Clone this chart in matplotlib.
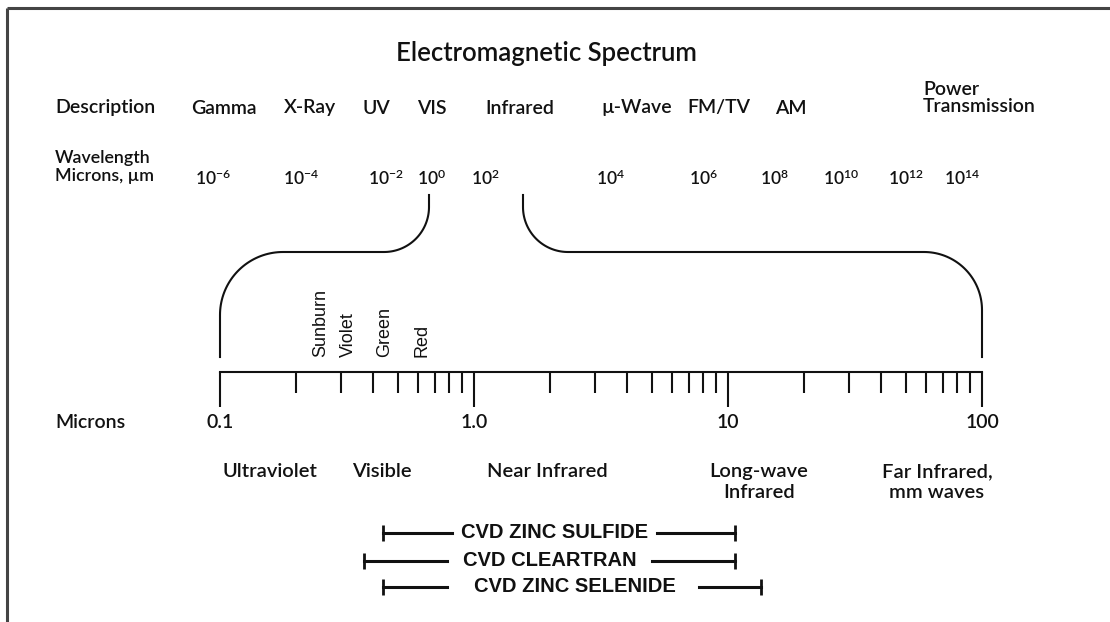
import numpy as np
import matplotlib.pyplot as plt
from matplotlib.ticker import FixedLocator, FixedFormatter, NullFormatter

plt.rcParams['font.family'] = ['Lato', 'DejaVu Sans']
plt.rcParams['font.weight'] = 'semibold'
plt.rcParams['mathtext.fontset'] = 'custom'
plt.rcParams['mathtext.rm'] = 'Lato:semibold'

# data
desc_labels = ['Gamma', 'X-Ray', 'UV', 'VIS', 'Infrared', '\u00b5-Wave', 'FM/TV', 'AM']
wl_exponents = [-6, -4, -2, 0, 2, 4, 6, 8, 10, 12, 14]
micron_major = [0.1, 1, 10, 100]
micron_labels = ['0.1', '1.0', '10', '100']
color_names = ['Sunburn', 'Violet', 'Green', 'Red']
color_um = [0.25, 0.32, 0.445, 0.625]
region_names = ['Ultraviolet', 'Visible', 'Near Infrared', 'Long-wave\nInfrared', 'Far Infrared,\nmm waves']
cvd_names = ['CVD ZINC SULFIDE', 'CVD CLEARTRAN', 'CVD ZINC SELENIDE']
cvd_start = [0.44, 0.37, 0.44]
cvd_end = [10.7, 10.7, 13.5]

# layout (pixels / microns)
desc_x = [224, 310, 376, 432, 520, 637, 719, 791]
wl_x = [213, 301, 386, 432, 485, 611, 703, 774, 841, 906, 962]
region_um = [0.157, 0.435, 1.95, 13.2, 66.5]
cvd_y = [533, 561, 587]
cvd_text_um = [2.07, 1.99, 2.5]
cvd_gap_lo = [0.819, 0.783, 0.783]
cvd_gap_hi = [5.25, 5.02, 7.69]

W, H = 1110, 622
fig = plt.figure(figsize=(W / 100, H / 100), dpi=100)
ov = fig.add_axes([0, 0, 1, 1])
ov.set_xlim(0, W)
ov.set_ylim(H, 0)
ov.axis('off')

ax = fig.add_axes([0, 0, 1, 1])
ax.patch.set_alpha(0)
ax.set_xscale('log')
ax.set_xlim(10 ** (-1 - 220 / 254), 10 ** (-1 + 890 / 254))
ax.set_ylim(H, 0)

ink = '#111111'
lw = 1.5

# frame
ov.plot([7, 7], [8, H], color='#444444', lw=2.2, solid_capstyle='butt')
ov.plot([7, W], [8, 8], color='#444444', lw=2.2, solid_capstyle='butt')

# top part
ov.text(546, 54, 'Electromagnetic Spectrum', ha='center', va='center', fontsize=18.5, color=ink)
ov.text(55, 108, 'Description', ha='left', va='center', fontsize=14, color=ink)
for lab, x in zip(desc_labels, desc_x):
    ov.text(x, 108, lab, ha='center', va='center', fontsize=14, color=ink)
ov.text(923, 98, 'Power\nTransmission', ha='left', va='center', fontsize=14,
        color=ink, linespacing=1.0)
ov.text(55, 167, 'Wavelength\nMicrons, \u00b5m', ha='left', va='center', fontsize=12.8,
        color=ink, linespacing=1.15)
for e, x in zip(wl_exponents, wl_x):
    ov.text(x, 178, r'$\mathregular{10^{%d}}$' % e, ha='center', va='center',
            fontsize=12.5, color=ink)

# brackets connecting spectrum to the micron scale
x01 = ov.transData.inverted().transform(ax.transData.transform((micron_major[0], 0)))[0]
x100 = ov.transData.inverted().transform(ax.transData.transform((micron_major[-1], 0)))[0]


def arc(cx, cy, r, a0, a1):
    t = np.radians(np.linspace(a0, a1, 40))
    return cx + r * np.cos(t), cy + r * np.sin(t)


yb = 357
ax1, ay1 = arc(384, 207, 45, 0, 90)
ax2, ay2 = arc(x01 + 63, 315, 63, 270, 180)
lx = np.concatenate([[429], ax1, ax2, [x01]])
ly = np.concatenate([[195], ay1, ay2, [yb]])
ov.plot(lx, ly, color=ink, lw=lw)

bx1, by1 = arc(568, 207, 45, 180, 90)
bx2, by2 = arc(x100 - 58, 310, 58, 270, 360)
rx = np.concatenate([[523], bx1, bx2, [x100]])
ry = np.concatenate([[195], by1, by2, [yb]])
ov.plot(rx, ry, color=ink, lw=lw)

# micron scale
for s in ['left', 'right', 'top']:
    ax.spines[s].set_visible(False)
ax.spines['bottom'].set_position(('data', 372))
ax.spines['bottom'].set_bounds(micron_major[0], micron_major[-1])
ax.spines['bottom'].set_linewidth(lw)
ax.spines['bottom'].set_color(ink)
ax.xaxis.set_major_locator(FixedLocator(micron_major))
ax.xaxis.set_major_formatter(FixedFormatter(micron_labels))
minor = [m * d for d in [0.1, 1, 10] for m in range(2, 10)]
ax.xaxis.set_minor_locator(FixedLocator(minor))
ax.xaxis.set_minor_formatter(NullFormatter())
ax.tick_params(axis='x', which='major', direction='out', length=25, width=lw,
               color=ink, pad=5, labelsize=14, labelcolor=ink)
ax.tick_params(axis='x', which='minor', direction='out', length=15, width=lw, color=ink)
ax.set_yticks([])

ax.text(10 ** (-1 - (220 - 55) / 254), 423, 'Microns', ha='left', va='center',
        fontsize=14, color=ink)

for name, um in zip(color_names, color_um):
    ax.text(um, 357, name, rotation=90, ha='center', va='bottom', fontsize=13,
            fontweight='normal', family=['Liberation Sans', 'DejaVu Sans'], color=ink)

for name, um in zip(region_names, region_um):
    ax.text(um, 463, name, ha='center', va='top', fontsize=14.5, color=ink,
            linespacing=1.25)

for name, y, a, b, t, g0, g1 in zip(cvd_names, cvd_y, cvd_start, cvd_end,
                                    cvd_text_um, cvd_gap_lo, cvd_gap_hi):
    ax.plot([a, g0], [y, y], color=ink, lw=2.2)
    ax.plot([g1, b], [y, y], color=ink, lw=2.2)
    ax.plot([a, b], [y, y], ls='none', marker='|', markersize=11, mew=2, color=ink)
    ax.text(t, y, name, ha='center', va='center', fontsize=14.5, color=ink,
            fontweight='bold', family=['Liberation Sans', 'DejaVu Sans'])

fig.savefig('out.png', dpi=100)
